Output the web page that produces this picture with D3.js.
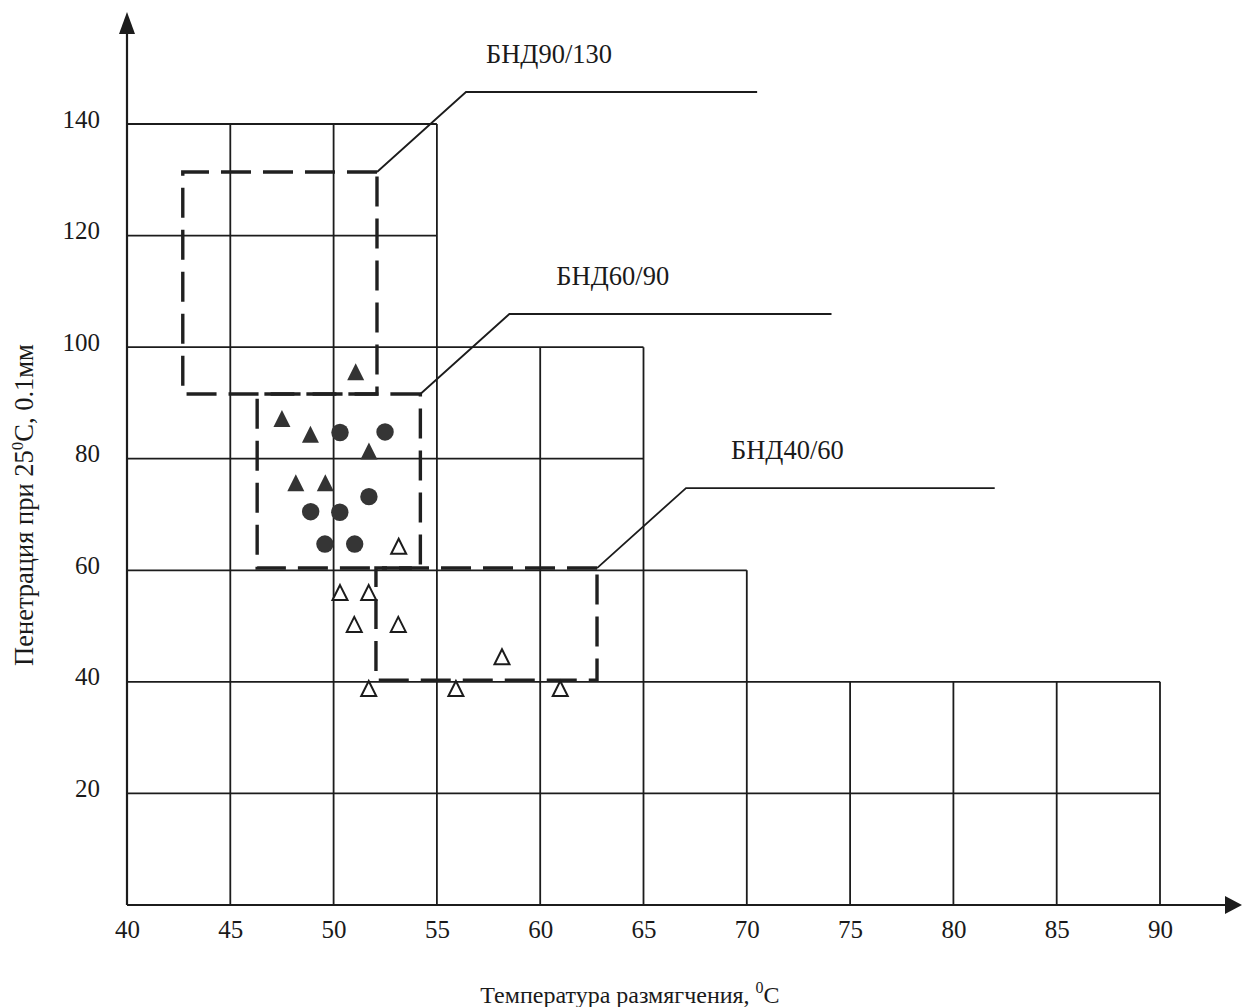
<!DOCTYPE html>
<html>
<head>
<meta charset="utf-8">
<script src="https://cdn.jsdelivr.net/npm/d3@7/dist/d3.min.js"></script>
<style>
  html, body { margin: 0; padding: 0; background: #ffffff; }
  svg { display: block; }
  text { font-family: "Liberation Serif", "Times New Roman", serif; fill: #1a1a1a; }
</style>
</head>
<body>
<svg id="chart" width="1242" height="1007"></svg>
<script>
// ---------------- DATA ----------------
const xTicks = [40, 45, 50, 55, 60, 65, 70, 75, 80, 85, 90];
const yTicks = [20, 40, 60, 80, 100, 120, 140];

// staircase grid: horizontal levels and how far right each reaches
const gridY = [20, 40, 60, 80, 100, 120, 140];
const gridYReach = [90, 90, 70, 65, 65, 55, 55];
// vertical levels and how high each reaches
const gridX = [45, 50, 55, 60, 65, 70, 75, 80, 85, 90];
const gridXReach = [140, 140, 140, 100, 100, 60, 40, 40, 40, 40];

// bitumen grade zones (dashed rectangles)
const zoneNames = ["БНД90/130", "БНД60/90", "БНД40/60"];
const zoneXMin = [42.7, 46.3, 52.05];
const zoneXMax = [52.1, 54.2, 62.75];
const zoneYMin = [91.6, 60.4, 40.3];
const zoneYMax = [131.4, 91.6, 60.4];
const zoneLeaderEnd = [70.5, 74.1, 82.0]; // x value where the leader line ends

// filled triangles
const filledTriX = [51.07, 47.50, 48.88, 51.71, 48.17, 49.60];
const filledTriY = [95.6, 87.2, 84.4, 81.4, 75.7, 75.7];
// filled circles
const circleX = [50.31, 52.49, 51.71, 48.89, 50.30, 49.58, 51.02];
const circleY = [84.7, 84.8, 73.2, 70.5, 70.4, 64.7, 64.7];
// open triangles
const openTriX = [53.15, 50.31, 51.70, 51.00, 53.13, 58.15, 51.70, 55.92, 60.97];
const openTriY = [64.3, 56.0, 56.0, 50.3, 50.3, 44.5, 38.8, 38.8, 38.8];

const xTitle = "Температура размягчения, ";
const yTitle = "Пенетрация при 25";
const yTitleTail = "C, 0.1мм";

// ---------------- LAYOUT ----------------
const svg = d3.select("#chart");
const x = d3.scaleLinear().domain([40, 90]).range([127, 1160]);
const y = d3.scaleLinear().domain([0, 140]).range([905, 124]);
const ink = "#1c1c1c";

// grid
const g = svg.append("g");
gridY.forEach((v, i) => {
  g.append("line")
    .attr("x1", x(40)).attr("x2", x(gridYReach[i]))
    .attr("y1", y(v)).attr("y2", y(v))
    .attr("stroke", ink).attr("stroke-width", 1.8);
});
gridX.forEach((v, i) => {
  g.append("line")
    .attr("x1", x(v)).attr("x2", x(v))
    .attr("y1", y(0)).attr("y2", y(gridXReach[i]))
    .attr("stroke", ink).attr("stroke-width", 1.8);
});

// axes lines with arrows
svg.append("line")
  .attr("x1", x(40)).attr("x2", x(40)).attr("y1", y(0)).attr("y2", 25)
  .attr("stroke", ink).attr("stroke-width", 2.2);
svg.append("path")
  .attr("d", `M${x(40)},12 L${x(40) + 8},34 L${x(40) - 8},34 Z`)
  .attr("fill", ink);
svg.append("line")
  .attr("x1", x(40)).attr("x2", 1232).attr("y1", y(0)).attr("y2", y(0))
  .attr("stroke", ink).attr("stroke-width", 2.2);
svg.append("path")
  .attr("d", `M1242,${y(0)} L1225,${y(0) - 9} L1225,${y(0) + 9} Z`)
  .attr("fill", ink);

// tick labels via d3 axes
const xAxis = svg.append("g")
  .attr("transform", `translate(0,${y(0)})`)
  .call(d3.axisBottom(x).tickValues(xTicks).tickSize(0).tickFormat(d3.format("d")));
xAxis.select(".domain").remove();
xAxis.selectAll("text")
  .attr("y", 33).attr("dy", "0")
  .style("font-family", "Liberation Serif").style("font-size", "25px").attr("fill", ink);

const yAxis = svg.append("g")
  .attr("transform", `translate(${x(40)},0)`)
  .call(d3.axisLeft(y).tickValues(yTicks).tickSize(0).tickFormat(d3.format("d")));
yAxis.select(".domain").remove();
yAxis.selectAll("text")
  .attr("x", -27).attr("dy", "3")
  .style("font-family", "Liberation Serif").style("font-size", "25px").attr("fill", ink);

// zones (dashed rectangles) + leaders + labels
const leaderDx = 89, leaderDy = -80;
const labelDx = [20, 47, 45];
const labelDy = -29;
zoneNames.forEach((name, i) => {
  const x0 = x(zoneXMin[i]), x1 = x(zoneXMax[i]);
  const yTop = y(zoneYMax[i]), yBot = y(zoneYMin[i]);
  svg.append("path")
    .attr("d", `M${x1},${yTop} L${x0},${yTop} L${x0},${yBot} L${x1},${yBot} Z`)
    .attr("fill", "none")
    .attr("stroke", "#202020")
    .attr("stroke-width", 3.4)
    .attr("stroke-dasharray", "30,12");
  const ex = x1 + leaderDx, ey = yTop + leaderDy;
  svg.append("path")
    .attr("d", `M${x1},${yTop} L${ex},${ey} L${x(zoneLeaderEnd[i])},${ey}`)
    .attr("fill", "none").attr("stroke", ink).attr("stroke-width", 1.8);
  svg.append("text")
    .attr("x", ex + labelDx[i]).attr("y", ey + labelDy)
    .style("font-size", "26.5px")
    .text(name);
});

// markers
function triPath(cx, cy, w, h) {
  const p = d3.path();
  p.moveTo(cx, cy - h / 2);
  p.lineTo(cx + w / 2, cy + h / 2);
  p.lineTo(cx - w / 2, cy + h / 2);
  p.closePath();
  return p.toString();
}
const marks = svg.append("g");
openTriX.forEach((v, i) => {
  marks.append("path")
    .attr("d", triPath(x(v), y(openTriY[i]), 15, 15))
    .attr("fill", "#ffffff").attr("stroke", ink).attr("stroke-width", 2);
});
filledTriX.forEach((v, i) => {
  marks.append("path")
    .attr("d", triPath(x(v), y(filledTriY[i]), 17, 17))
    .attr("fill", "#333333");
});
circleX.forEach((v, i) => {
  marks.append("circle")
    .attr("cx", x(v)).attr("cy", y(circleY[i])).attr("r", 8.7)
    .attr("fill", "#353535");
});

// axis titles
const xt = svg.append("text")
  .attr("x", 630).attr("y", 1003)
  .attr("text-anchor", "middle")
  .style("font-size", "24px");
xt.append("tspan").text(xTitle);
xt.append("tspan").attr("dy", -10).style("font-size", "16px").text("0");
xt.append("tspan").attr("dy", 10).text("C");

const yt = svg.append("text")
  .attr("transform", "translate(33,505) rotate(-90)")
  .attr("text-anchor", "middle")
  .style("font-size", "26.5px");
yt.append("tspan").text(yTitle);
yt.append("tspan").attr("dy", -10).style("font-size", "17px").text("0");
yt.append("tspan").attr("dy", 10).text(yTitleTail);
</script>
</body>
</html>
